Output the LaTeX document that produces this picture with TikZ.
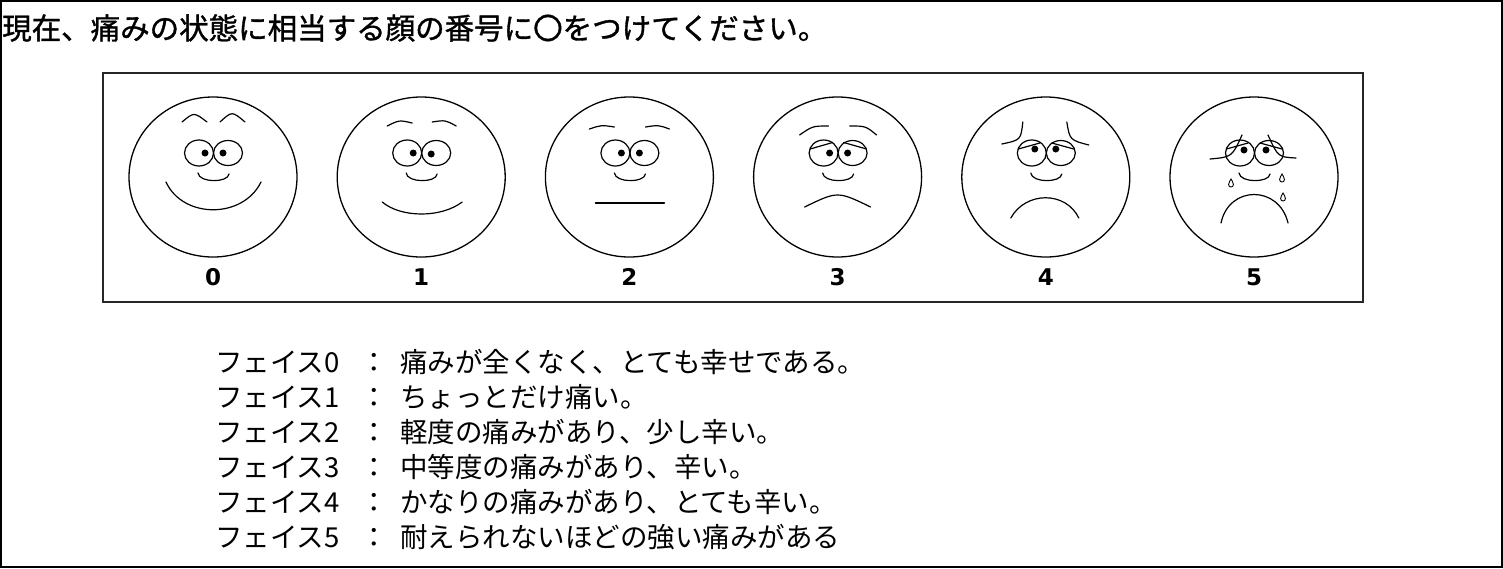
\documentclass[tikz,border=0pt]{standalone}
\usepackage{fontspec}
\usepackage{tikz}
\usetikzlibrary{shapes.geometric,positioning}
\newfontfamily\cjk{Noto Sans CJK JP}
\newfontfamily\cjkhead{Noto Sans CJK JP}[FakeBold=1.2]
\newfontfamily\numfont{DejaVu Sans}

\begin{document}
\begin{tikzpicture}[x=1pt, y=-1pt, line cap=round,
    facering/.style={draw, ellipse, line width=1.3pt, minimum width=168pt, minimum height=160pt, inner sep=0pt},
    feature/.style={line width=1.2pt},
    facenum/.style={font=\numfont\bfseries\fontsize{23}{23}\selectfont, inner sep=0pt},
    legendtext/.style={font=\cjk\fontsize{27.5}{27.5}\selectfont, anchor=base west, inner sep=0pt},
    eyesnose/.pic={
        \draw (-14,-24) ellipse (14.5 and 13);
        \draw (15,-24) ellipse (14.5 and 12.5);
        \draw (-15,-4) .. controls (-14,6) and (15,6) .. (16,-3);
    },
    tear/.pic={
        \draw[line width=0.9pt] (0,-4) .. controls (1,-2) and (2.4,-0.5) .. (2.4,1.5)
            .. controls (2.4,3.2) and (1.2,4) .. (0,4) .. controls (-1.2,4) and (-2.4,3.2) .. (-2.4,1.5)
            .. controls (-2.4,-0.5) and (-1,-2) .. cycle;
    }]

    \useasboundingbox (0,0) rectangle (1503,568);

    % Outer frame and question
    \draw[line width=2.4pt] (1.2,1.2) rectangle (1501.8,566.8);
    \node[anchor=west, inner sep=0pt, font=\cjkhead\fontsize{29.5}{29.5}\selectfont] (title) at (2,28)
        {現在、痛みの状態に相当する顔の番号に〇をつけてください。};

    % Face scale box
    \draw[line width=1.3pt, black!85] (103,73) rectangle (1363,302);

    % Face outlines and numbers
    \foreach \i in {0,...,5} {
        \node[facering] (face\i) at (213+208.2*\i,177) {};
        \node[facenum] (num\i) at (213+208.2*\i,277) {\i};
    }

    % Face 0
    \begin{scope}[shift={(face0.center)}, feature]
        \pic {eyesnose};
        \draw (-31,-55) .. controls (-19,-65) .. (-6,-55);
        \draw (7,-55) .. controls (19,-66) .. (32,-55);
        \fill (-8,-24) circle (3.5) (10,-24) circle (3.5);
        \draw (-47,5) .. controls (-30,42) and (30,42) .. (48,5);
    \end{scope}

    % Face 1
    \begin{scope}[shift={(face1.center)}, feature]
        \pic {eyesnose};
        \draw (-34,-51) .. controls (-22,-57) .. (-9,-54);
        \draw (11,-55) .. controls (24,-57) .. (35,-51);
        \fill (-8,-24) circle (3.5) (10,-23) circle (3.5);
        \draw (-39,25) .. controls (-20,41) and (20,41) .. (41,25);
    \end{scope}

    % Face 2
    \begin{scope}[shift={(face2.center)}, feature]
        \pic {eyesnose};
        \draw (-40,-48) .. controls (-28,-52) .. (-15,-50);
        \draw (16,-50) .. controls (29,-52) .. (40,-48);
        \fill (-8,-24) circle (3.5) (10,-24) circle (3.5);
        \draw (-34,26) -- (35,26);
    \end{scope}

    % Face 3
    \begin{scope}[shift={(face3.center)}, feature]
        \pic {eyesnose};
        \draw (-38,-42) .. controls (-25,-51) .. (-9,-51);
        \draw (12,-51) .. controls (28,-51) .. (39,-42);
        \draw (-27.5,-28) -- (-5,-34.5) (6,-34.5) -- (29,-28);
        \fill (-8,-24) circle (3.5) (10,-24) circle (3.5);
        \draw (-33,30) .. controls (0,14) .. (33,30);
    \end{scope}

    % Face 4
    \begin{scope}[shift={(face4.center)}, feature]
        \pic {eyesnose};
        \draw (-44,-33) .. controls (-25,-37) .. (-23,-55);
        \draw (21,-55) .. controls (24,-37) .. (43,-32);
        \draw (-27.5,-28) -- (-6,-34) (6,-34) -- (28,-28);
        \fill (-11,-28) circle (3.5) (10,-28) circle (3.5);
        \draw (-35,41) .. controls (-20,14) and (20,14) .. (33,41);
    \end{scope}

    % Face 5
    \begin{scope}[shift={(face5.center)}, feature]
        \pic {eyesnose};
        \draw (-44,-18) .. controls (-22,-20) .. (-12,-42);
        \draw (14,-42) .. controls (24,-20) .. (42,-19);
        \draw (-27.5,-28) -- (-6,-34) (6,-34) -- (28,-28);
        \fill (-10,-27) circle (3.5) (12,-27) circle (3.5);
        \pic at (-23,6) {tear};
        \pic at (28,1) {tear};
        \pic at (29,20) {tear};
        \draw (-33,46) .. controls (-25,8) and (25,8) .. (34,46);
    \end{scope}

    % Legend
    \foreach \i/\txt in {0/痛みが全くなく、とても幸せである。, 1/ちょっとだけ痛い。,
            2/軽度の痛みがあり、少し辛い。, 3/中等度の痛みがあり、辛い。,
            4/かなりの痛みがあり、とても辛い。, 5/耐えられないほどの強い痛みがある} {
        \node[legendtext] (lab\i) at (215,372+35*\i) {フェイス\i};
        \node[legendtext] (colon\i) at (360,372+35*\i) {：};
        \node[legendtext] (desc\i) at (400,372+35*\i) {\txt};
    }
\end{tikzpicture}
\end{document}
